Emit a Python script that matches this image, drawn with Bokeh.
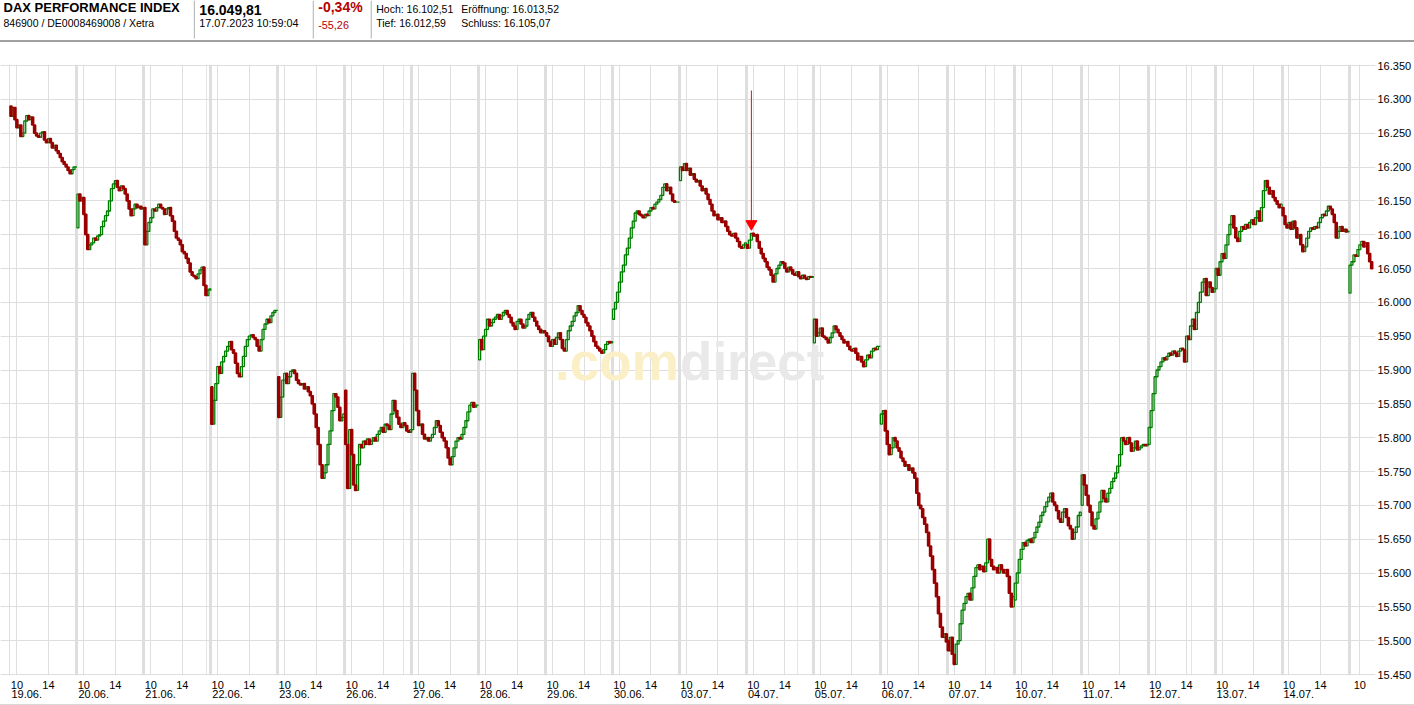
from bokeh.plotting import figure
from bokeh.models import Range1d, FixedTicker, Grid, LinearAxis, Label, ColumnDataSource, Div
from bokeh.layouts import column
from bokeh.embed import file_html
from bokeh.resources import INLINE
from bokeh.core.properties import value

# ---------------- data ----------------
TITLE = "DAX PERFORMANCE INDEX"
SUBTITLE = "846900 / DE0008469008 / Xetra"
LAST = "16.049,81"
TIMESTAMP = "17.07.2023 10:59:04"
CHANGE_PCT = "-0,34%"
CHANGE_ABS = "-55,26"
STATS_ROW1 = ["Hoch: 16.102,51", "Eröffnung: 16.013,52"]
STATS_ROW2 = ["Tief: 16.012,59", "Schluss: 16.105,07"]

DATES = ["19.06.", "20.06.", "21.06.", "22.06.", "23.06.", "26.06.", "27.06.",
         "28.06.", "29.06.", "30.06.", "03.07.", "04.07.", "05.07.", "06.07.",
         "07.07.", "10.07.", "11.07.", "12.07.", "13.07.", "14.07.", "17.07."]
CANDLE_MIN = [15, 15, 15, 15, 15, 15, 15, 15, 15, 15, 15, 15, 15, 15, 15, 15, 15, 15, 15, 15, 10]
DAY_OPEN = [16290, 16110, 16140, 15875, 15890, 15870, 15812, 15915, 15955, 15975,
            16180, 16085, 15940, 15820, 15500, 15560, 15700, 15790, 16020, 16140, 16013.52]

C_1906 = [16275, 16288, 16270, 16258, 16262, 16245, 16250, 16268, 16276, 16270, 16274, 16262,
          16250, 16246, 16244, 16250, 16252, 16240, 16236, 16242, 16236, 16228, 16232, 16224,
          16220, 16214, 16208, 16204, 16200, 16195, 16190, 16196, 16200, 16200]
C_2006 = [16160, 16150, 16155, 16130, 16100, 16078, 16085, 16088, 16095, 16092, 16098, 16100,
          16112, 16120, 16128, 16135, 16150, 16168, 16175, 16180, 16170, 16165, 16172, 16168,
          16160, 16150, 16138, 16128, 16138, 16145, 16140, 16142, 16138, 16140]
C_2106 = [16085, 16105, 16118, 16125, 16138, 16135, 16140, 16145, 16140, 16138, 16130, 16138,
          16140, 16128, 16120, 16105, 16095, 16092, 16085, 16075, 16072, 16065, 16058, 16045,
          16040, 16038, 16035, 16042, 16048, 16052, 16025, 16010, 16018, 16020]
C_2206 = [15820, 15855, 15880, 15905, 15895, 15912, 15920, 15928, 15935, 15942, 15930, 15925,
          15910, 15895, 15890, 15905, 15920, 15935, 15945, 15950, 15952, 15948, 15945, 15935,
          15928, 15945, 15960, 15968, 15975, 15970, 15980, 15985, 15988, 15988]
C_2306 = [15830, 15860, 15885, 15895, 15880, 15890, 15898, 15900, 15895, 15885, 15880, 15878,
          15880, 15872, 15875, 15868, 15862, 15850, 15835, 15815, 15790, 15760, 15740, 15748,
          15760, 15790, 15810, 15840, 15865, 15860, 15845, 15825, 15830, 15835]
C_2606 = [15790, 15725, 15812, 15775, 15730, 15722, 15760, 15790, 15785, 15795, 15790, 15798,
          15790, 15795, 15800, 15795, 15805, 15810, 15815, 15808, 15820, 15818, 15812, 15835,
          15855, 15840, 15830, 15820, 15815, 15822, 15818, 15810, 15808, 15812]
C_2706 = [15895, 15870, 15840, 15818, 15820, 15805, 15798, 15800, 15795, 15800, 15805, 15815,
          15825, 15818, 15808, 15800, 15795, 15785, 15770, 15760, 15772, 15785, 15795, 15800,
          15798, 15805, 15815, 15825, 15838, 15848, 15852, 15845, 15848, 15848]
C_2806 = [15945, 15930, 15950, 15960, 15975, 15965, 15970, 15975, 15978, 15982, 15975, 15980,
          15985, 15988, 15982, 15978, 15970, 15965, 15960, 15972, 15975, 15968, 15962, 15965,
          15975, 15982, 15985, 15978, 15972, 15965, 15960, 15955, 15958, 15955]
C_2906 = [15950, 15942, 15935, 15945, 15938, 15948, 15955, 15945, 15932, 15928, 15945, 15958,
          15965, 15972, 15980, 15985, 15995, 15988, 15982, 15978, 15970, 15965, 15958, 15950,
          15942, 15935, 15932, 15928, 15925, 15930, 15938, 15942, 15940, 15942]
C_3006 = [15990, 16000, 16015, 16030, 16045, 16055, 16070, 16080, 16095, 16110, 16120, 16132,
          16135, 16130, 16128, 16125, 16130, 16128, 16135, 16140, 16138, 16145, 16148, 16152,
          16158, 16170, 16175, 16165, 16170, 16160, 16150, 16148, 16148, 16148]
C_0307 = [16200, 16195, 16205, 16195, 16198, 16188, 16190, 16182, 16178, 16180, 16172, 16165,
          16168, 16160, 16152, 16145, 16135, 16128, 16130, 16122, 16125, 16118, 16120, 16112,
          16105, 16100, 16098, 16102, 16095, 16090, 16082, 16080, 16085, 16088]
C_0407 = [16080, 16092, 16102, 16098, 16100, 16090, 16080, 16072, 16065, 16060, 16052, 16048,
          16040, 16030, 16042, 16050, 16055, 16060, 16058, 16050, 16045, 16052, 16048, 16042,
          16040, 16045, 16038, 16035, 16040, 16036, 16034, 16038, 16037, 16038]
C_0507 = [15975, 15950, 15955, 15962, 15950, 15948, 15945, 15940, 15948, 15955, 15965, 15960,
          15955, 15950, 15945, 15940, 15942, 15935, 15930, 15928, 15932, 15925, 15915, 15920,
          15912, 15905, 15915, 15922, 15918, 15928, 15932, 15930, 15935, 15935]
C_0607 = [15835, 15840, 15810, 15790, 15775, 15785, 15800, 15795, 15785, 15780, 15770, 15765,
          15758, 15760, 15752, 15755, 15748, 15740, 15718, 15700, 15695, 15682, 15672, 15660,
          15640, 15625, 15605, 15585, 15565, 15540, 15520, 15505, 15510, 15498]
C_0707 = [15485, 15505, 15480, 15465, 15495, 15500, 15525, 15545, 15555, 15565, 15570, 15560,
          15578, 15595, 15608, 15612, 15605, 15610, 15602, 15615, 15650, 15620, 15610, 15605,
          15608, 15600, 15612, 15605, 15600, 15605, 15595, 15570, 15550, 15565]
C_1007 = [15585, 15600, 15620, 15635, 15645, 15640, 15648, 15650, 15645, 15652, 15660, 15668,
          15675, 15685, 15690, 15698, 15705, 15712, 15718, 15705, 15700, 15692, 15680, 15675,
          15690, 15695, 15682, 15670, 15665, 15650, 15660, 15668, 15685, 15690]
C_1107 = [15745, 15730, 15715, 15700, 15690, 15670, 15665, 15680, 15690, 15705, 15722, 15710,
          15705, 15718, 15725, 15735, 15740, 15748, 15758, 15775, 15800, 15795, 15790, 15800,
          15792, 15780, 15785, 15795, 15782, 15785, 15788, 15790, 15788, 15790]
C_1207 = [15815, 15840, 15865, 15890, 15900, 15905, 15912, 15918, 15915, 15920, 15925, 15922,
          15928, 15925, 15920, 15928, 15932, 15930, 15912, 15950, 15945, 15965, 15975, 15960,
          15985, 16000, 16015, 16030, 16035, 16010, 16030, 16022, 16015, 16020]
C_1307 = [16050, 16040, 16060, 16072, 16065, 16085, 16100, 16115, 16128, 16110, 16095, 16090,
          16105, 16112, 16108, 16115, 16110, 16118, 16122, 16115, 16125, 16135, 16120, 16140,
          16165, 16180, 16170, 16160, 16165, 16155, 16150, 16145, 16140, 16145]
C_1407 = [16128, 16115, 16110, 16118, 16108, 16120, 16110, 16095, 16100, 16085, 16075, 16082,
          16095, 16105, 16110, 16108, 16112, 16110, 16118, 16125, 16130, 16128, 16135, 16142,
          16138, 16130, 16118, 16095, 16105, 16112, 16105, 16108, 16104, 16105.07]
C_1707 = [16055, 16060, 16070, 16068, 16078, 16085, 16090, 16082, 16088, 16072, 16060, 16049.81]

CLOSES = [C_1906, C_2006, C_2106, C_2206, C_2306, C_2606, C_2706, C_2806, C_2906, C_3006,
          C_0307, C_0407, C_0507, C_0607, C_0707, C_1007, C_1107, C_1207, C_1307, C_1407, C_1707]

HOURS = [10, 14]
HOUR_LABELS = ["10", "14"]
Y_TICKS = [15450, 15500, 15550, 15600, 15650, 15700, 15750, 15800, 15850, 15900,
           15950, 16000, 16050, 16100, 16150, 16200, 16250, 16300, 16350]
Y_LABELS = ["15.450", "15.500", "15.550", "15.600", "15.650", "15.700", "15.750", "15.800",
            "15.850", "15.900", "15.950", "16.000", "16.050", "16.100", "16.150", "16.200",
            "16.250", "16.300", "16.350"]

MARK_DAY = 11          # 04.07.
MARK_SLOT = 2
MARK_PRICE = 16116
MARK_TOP = 16313

# ---------------- layout constants ----------------
PAGE_W = 1414
FRAME_W = 1376
RIGHT_B = PAGE_W - FRAME_W
HEAD_H = 40
MAIN_H = 662            # page y 42 .. 704
SLOTS = 34              # candle slots per trading day
SLOT_PX = 67.0 / SLOTS
PT_PX = 609.0 / 900.0
X0 = -9.5 / SLOT_PX
X1 = X0 + FRAME_W / SLOT_PX
Y0 = Y_TICKS[0] - 1.0 / PT_PX
Y1 = Y_TICKS[-1] + 1.0 / PT_PX
DATE_SHIFT = 8.5        # date label centre, in slots after the day start

RED = "#9a0000"
GREEN = "#007d00"
GRID = "#dedede"
FONT = "Liberation Sans"

# ---------------- build candles ----------------
up = dict(x=[], top=[], bottom=[])
dn = dict(x=[], top=[], bottom=[])
for d, (o0, cl) in enumerate(zip(DAY_OPEN, CLOSES)):
    prev = o0
    for i, c in enumerate(cl):
        x = d * SLOTS + i + 0.5
        tgt = up if c >= prev else dn
        tgt["x"].append(x)
        tgt["top"].append(max(prev, c))
        tgt["bottom"].append(min(prev, c))
        prev = c

hour_ticks, hour_over = [0.0], {0.0: ""}
for d in range(len(DATES)):
    for h, lab in zip(HOURS, HOUR_LABELS):
        pos = (h - 9) * 60.0 / CANDLE_MIN[d] - 0.5
        if pos < len(CLOSES[d]):
            t = d * SLOTS + pos
            hour_ticks.append(t)
            hour_over[t] = lab
sep_ticks = [float(d * SLOTS) for d in range(1, len(DATES))]
date_ticks = [d * SLOTS + DATE_SHIFT for d in range(len(DATES) - 1)]
date_over = dict(zip(date_ticks, DATES[:-1]))

# ---------------- main figure ----------------
p = figure(width=PAGE_W, height=MAIN_H, x_range=Range1d(X0, X1), y_range=Range1d(Y0, Y1),
           output_backend="svg", toolbar_location=None,
           x_axis_location=None, y_axis_location=None,
           min_border_left=0, min_border_right=RIGHT_B, min_border_top=22, min_border_bottom=29,
           outline_line_color=None, background_fill_color="white", border_fill_color="white")

p.add_layout(Grid(dimension=1, ticker=FixedTicker(ticks=Y_TICKS), grid_line_color=GRID, grid_line_width=1))
p.add_layout(Grid(dimension=0, ticker=FixedTicker(ticks=hour_ticks), grid_line_color=GRID, grid_line_width=1))
p.add_layout(Grid(dimension=0, ticker=FixedTicker(ticks=sep_ticks), grid_line_color=GRID, grid_line_width=3))

axis_style = dict(axis_line_color=None, major_tick_line_color=None, minor_tick_line_color=None,
                  major_tick_out=0, major_tick_in=0, major_label_text_font=FONT,
                  major_label_text_font_size="11px", major_label_text_color="black")

xaxis = LinearAxis(ticker=FixedTicker(ticks=hour_ticks, minor_ticks=[]), major_label_overrides=hour_over,
                   major_label_standoff=5, **axis_style)
p.add_layout(xaxis, "below")
daxis = LinearAxis(ticker=FixedTicker(ticks=date_ticks, minor_ticks=[]), major_label_overrides=date_over,
                   major_label_standoff=-2, **axis_style)
p.add_layout(daxis, "below")

yaxis = LinearAxis(ticker=FixedTicker(ticks=Y_TICKS, minor_ticks=[]),
                   major_label_overrides=dict(zip(Y_TICKS, Y_LABELS)),
                   major_label_standoff=2, **axis_style)
p.add_layout(yaxis, "right")


def px_x(page_x):
    return X0 + page_x / SLOT_PX


def py_y(page_y):
    return Y_TICKS[-1] - (page_y - 65) / PT_PX


# watermark
p.add_layout(Label(x=px_x(555), y=py_y(390), text=".com", text_font=FONT,
                   text_font_style="bold", text_font_size="53px", text_color="#fbefc8",
                   level="underlay"))
p.add_layout(Label(x=px_x(680), y=py_y(390), text="direct", text_font=FONT,
                   text_font_style="bold", text_font_size="53px", text_color="#e9e9e9",
                   level="underlay"))

p.vbar(x="x", top="top", bottom="bottom", width=1.0, source=ColumnDataSource(up),
       fill_color="white", line_color=GREEN, line_width=1.3)
p.vbar(x="x", top="top", bottom="bottom", width=1.0, source=ColumnDataSource(dn),
       fill_color=RED, line_color=RED, line_width=1.6)

mx = MARK_DAY * SLOTS + MARK_SLOT + 0.5
p.segment(x0=[mx], y0=[MARK_TOP], x1=[mx], y1=[MARK_PRICE], line_color="red", line_width=1)
p.scatter(x=[mx], y=[MARK_PRICE], marker="inverted_triangle", size=11, fill_color="red",
          line_color="red")

# ---------------- header figure (page px coordinates) ----------------
h = figure(width=PAGE_W, height=HEAD_H, x_range=Range1d(0, FRAME_W), y_range=Range1d(0, HEAD_H),
           output_backend="svg", toolbar_location=None,
           x_axis_location=None, y_axis_location=None,
           min_border_left=0, min_border_right=RIGHT_B, min_border_top=0, min_border_bottom=0,
           outline_line_color=None, background_fill_color="white", border_fill_color="white")
h.xgrid.visible = False
h.ygrid.visible = False

F = value(FONT)
R1 = HEAD_H - 14
R2 = HEAD_H - 28
h.text(x=[3], y=[R1], text=[TITLE], text_font=F, text_font_style="bold",
       text_font_size="13px", text_color="black")
h.text(x=[199], y=[R1], text=[LAST], text_font=F, text_font_style="bold",
       text_font_size="14px", text_color="black")
h.text(x=[318], y=[R1], text=[CHANGE_PCT], text_font=F, text_font_style="bold",
       text_font_size="14px", text_color="#b40000")
h.text(x=[376, 461], y=[R1, R1], text=STATS_ROW1, text_font=F, text_font_size="10.5px",
       text_color="black")
h.text(x=[3], y=[R2], text=[SUBTITLE], text_font=F, text_font_size="10.5px", text_color="black")
h.text(x=[199], y=[R2], text=[TIMESTAMP], text_font=F, text_font_size="10.8px", text_color="black")
h.text(x=[318], y=[R2], text=[CHANGE_ABS], text_font=F, text_font_size="10.8px", text_color="#b40000")
h.text(x=[376, 461], y=[R2, R2], text=STATS_ROW2, text_font=F, text_font_size="10.5px",
       text_color="black")
h.segment(x0=[194, 313, 371], y0=[2] * 3, x1=[194, 313, 371], y1=[HEAD_H] * 3,
          line_color="#b0b0b0", line_width=1)

head_line = Div(text="", width=PAGE_W, height=2, margin=0, styles={"background-color": "#a0a0a0"})
foot_line = Div(text="", width=PAGE_W, height=1, margin=0, styles={"background-color": "#d8d8d8"})

layout = column(h, head_line, p, foot_line, spacing=0)
open("out.html", "w").write(file_html(layout, INLINE))
